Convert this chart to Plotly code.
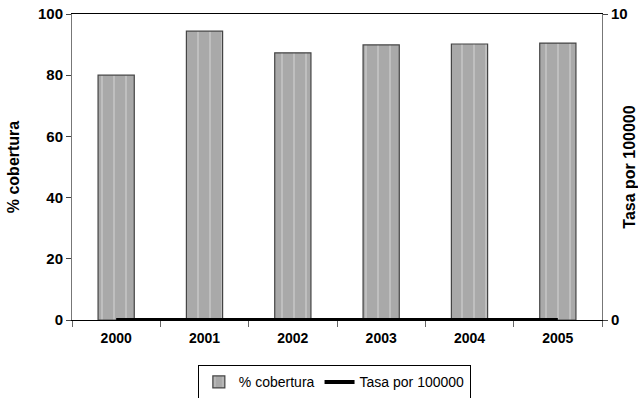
import plotly.graph_objects as go

years = ["2000", "2001", "2002", "2003", "2004", "2005"]
cobertura = [80.0, 94.4, 87.3, 89.9, 90.2, 90.5]
tasa = [0, 0, 0, 0, 0, 0]
left_ticks = [0, 20, 40, 60, 80, 100]
right_ticks = [0, 10]

FONT = "Liberation Sans, Arial, sans-serif"

fig = go.Figure()
fig.add_trace(go.Bar(
    x=years, y=cobertura, name="% cobertura",
    marker=dict(color="#a9a9a9", line=dict(color="#444444", width=1.2),
                pattern=dict(shape="|", fgcolor="#e6e6e6", size=12, solidity=0.12)),
    width=0.41,
))
fig.add_trace(go.Scatter(
    x=years, y=tasa, name="Tasa por 100000", yaxis="y2",
    mode="lines", line=dict(color="black", width=4),
))

fig.update_layout(
    width=638, height=398,
    margin=dict(l=72, r=36, t=14, b=78, autoexpand=False),
    paper_bgcolor="white", plot_bgcolor="white",
    font=dict(family=FONT, size=13, color="black"),
    showlegend=True,
    legend=dict(orientation="h", x=0.495, xanchor="center", y=-0.148, yanchor="top",
                bordercolor="black", borderwidth=1,
                font=dict(family=FONT, size=14, color="black"),
                itemwidth=30, tracegroupgap=0),
    xaxis=dict(showline=True, linecolor="black", linewidth=1, mirror=True,
               ticks="outside", ticklen=6, tickcolor="#666",
               tickson="boundaries", automargin=False, ticklabelstandoff=5,
               tickfont=dict(family=FONT, size=14, color="black", weight="bold")),
    yaxis=dict(range=[0, 100], tickvals=left_ticks, showgrid=False, zeroline=False,
               showline=True, linecolor="#777", linewidth=1, automargin=False,
               ticks="outside", ticklen=5, tickcolor="#444",
               title=dict(text="<b>% cobertura</b>", font=dict(family=FONT, size=16), standoff=14),
               tickfont=dict(family=FONT, size=15, color="black", weight="bold")),
    yaxis2=dict(range=[0, 10], tickvals=right_ticks, overlaying="y", side="right",
                showgrid=False, zeroline=False, automargin=False,
                showline=True, linecolor="#777", linewidth=1,
                ticks="outside", ticklen=5, tickcolor="#444",
                title=dict(text="<b>Tasa por 100000</b>", font=dict(family=FONT, size=16), standoff=6),
                tickfont=dict(family=FONT, size=15, color="black", weight="bold")),
    bargap=0.59,
)

fig.write_html("out.html", config={"displayModeBar": False},
               post_script="document.body.style.margin='0';")
